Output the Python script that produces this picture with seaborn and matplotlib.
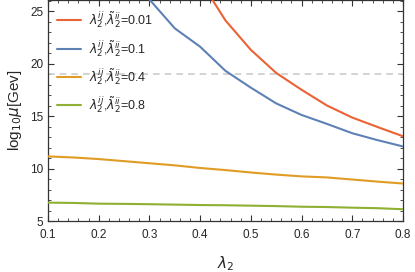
import numpy as np
import pandas as pd
import matplotlib
matplotlib.use("Agg")
import matplotlib.pyplot as plt
import seaborn as sns
from matplotlib.ticker import MultipleLocator

lam = [0.1, 0.15, 0.2, 0.25, 0.3, 0.35, 0.4, 0.45, 0.5, 0.55, 0.6, 0.65, 0.7, 0.75, 0.8]
red = [None, None, None, None, None, None, 27.9, 24.1, 21.3, 19.1, 17.5, 16.0, 14.85, 13.95, 13.07]
blue = [None, None, None, None, 26.1, 23.35, 21.6, 19.3, 17.7, 16.2, 15.1, 14.25, 13.36, 12.7, 12.1]
orange = [11.15, 11.05, 10.9, 10.7, 10.5, 10.3, 10.05, 9.85, 9.62, 9.42, 9.25, 9.15, 8.95, 8.75, 8.57]
green = [6.75, 6.72, 6.65, 6.63, 6.6, 6.56, 6.52, 6.5, 6.46, 6.42, 6.36, 6.33, 6.27, 6.22, 6.12]

labels = [r"$\lambda_2^{ij}$,$\tilde{\lambda}_2^{ii}$=0.01",
          r"$\lambda_2^{ij}$,$\tilde{\lambda}_2^{ii}$=0.1",
          r"$\lambda_2^{ij}$,$\tilde{\lambda}_2^{ii}$=0.4",
          r"$\lambda_2^{ij}$,$\tilde{\lambda}_2^{ii}$=0.8"]
colors = ["#EB6235", "#5E81B5", "#E19C24", "#8FB032"]
hline = 19

rows = []
for lab, ser in zip(labels, [red, blue, orange, green]):
    for x, y in zip(lam, ser):
        if y is not None:
            rows.append({"lam": x, "val": y, "series": lab})
df = pd.DataFrame(rows)

sns.set_style("ticks")
plt.rcParams["font.family"] = ["Liberation Sans", "DejaVu Sans"]
plt.rcParams["mathtext.fontset"] = "dejavusans"

fig = plt.figure(figsize=(4.15, 2.72), dpi=100)
ax = fig.add_axes([48/415, 1 - 221/272, 355/415, 221/272])

ax.axhline(hline, color="#cccccc", lw=1.2, ls=(0, (4, 3)), zorder=1)
sns.lineplot(data=df, x="lam", y="val", hue="series", hue_order=labels,
             palette=colors, lw=1.5, ax=ax, zorder=3)

ax.set_xlim(0.1, 0.8)
ax.set_ylim(5, 26.05)
ax.xaxis.set_major_locator(MultipleLocator(0.1))
ax.xaxis.set_minor_locator(MultipleLocator(0.02))
ax.yaxis.set_major_locator(MultipleLocator(5))
ax.yaxis.set_minor_locator(MultipleLocator(1))
ax.tick_params(which="both", direction="in", top=True, right=True, color="#333333")
ax.tick_params(which="major", length=4, width=0.8, labelsize=8.5)
ax.tick_params(which="minor", length=2, width=0.6)
ax.tick_params(axis="x", which="major", pad=6)
ax.set_xticks([0.1, 0.2, 0.3, 0.4, 0.5, 0.6, 0.7, 0.8])
ax.set_xticklabels(["0.1", "0.2", "0.3", "0.4", "0.5", "0.6", "0.7", "0.8"])
for s in ax.spines.values():
    s.set_color("#333333")
    s.set_linewidth(0.9)

ax.set_xlabel(r"$\lambda_2$", fontsize=11, labelpad=9)
ax.set_ylabel(r"log$_{10}\mu$[Gev]", fontsize=11, labelpad=4)

leg = ax.legend(loc="upper left", frameon=False, fontsize=9, handlelength=1.9,
                labelspacing=0.58, borderaxespad=0.35, handletextpad=0.6,
                bbox_to_anchor=(0.0, 1.0))

fig.savefig("out.png", dpi=100)
